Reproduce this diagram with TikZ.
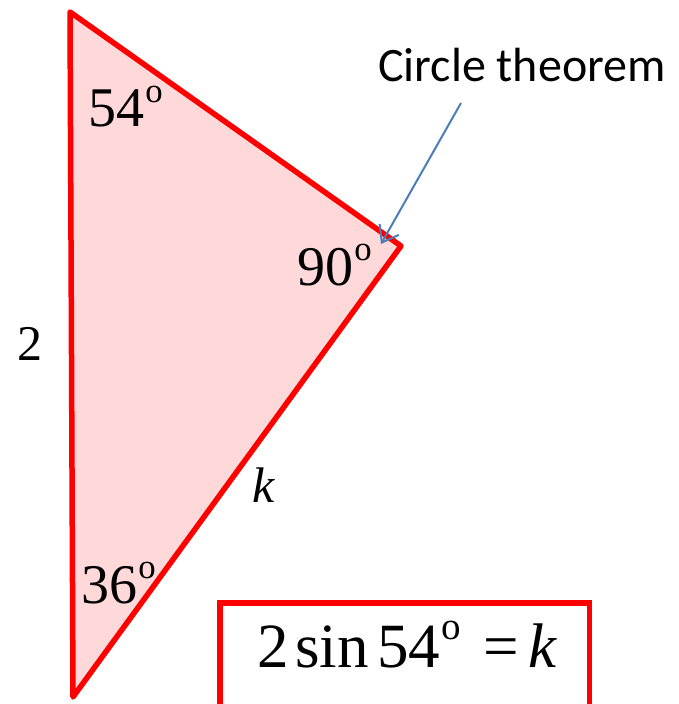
\documentclass[tikz,border=0pt]{standalone}
\usepackage{fontspec}
\setmainfont{Liberation Serif}
\newfontfamily\calfont{Carlito}
\usetikzlibrary{arrows.meta}
\definecolor{trired}{RGB}{255,0,0}
\definecolor{trifill}{RGB}{255,217,217}
\definecolor{arrowblue}{RGB}{74,126,187}
\newcommand\supo{\hspace{0.02em}\raisebox{0.43em}{\scalebox{0.62}{o}}}
\tikzset{
  edge/.style={draw=trired, line width=5.5bp, line join=round},
  anglelbl/.style={inner sep=0pt, anchor=base west, font=\fontsize{56bp}{60bp}\selectfont},
  sidelbl/.style={inner sep=0pt, anchor=base west, font=\fontsize{50bp}{54bp}\selectfont},
  notelbl/.style={inner sep=0pt, anchor=base west, font=\calfont\fontsize{48bp}{52bp}\selectfont},
  pointer/.style={draw=arrowblue, line width=2bp, -{Straight Barb[length=15bp,width=22bp,line width=2bp]}}
}
\begin{document}
\begin{tikzpicture}[x=1bp,y=-1bp]
\useasboundingbox (0,0) rectangle (679,704);
\begin{scope}
\clip (0,0) rectangle (679,704);
\coordinate (A) at (70,12);
\coordinate (B) at (401,246);
\coordinate (C) at (73,697);
\fill[trifill] (A) -- (B) -- (C) -- cycle;
\draw[edge] (A) -- (B) -- (C) -- cycle;
% box
\coordinate (bl) at (220,720);
\coordinate (tl) at (220,603);
\coordinate (tr) at (589.5,603);
\coordinate (br) at (589.5,720);
\draw[edge, line join=miter] (bl) -- (tl) -- (tr) -- (br);
\end{scope}
\node[anglelbl] (a54) at (88,127) {54\supo};
\node[anglelbl] (a90) at (297,285) {90\supo};
\node[anglelbl] (a36) at (81,603) {36\supo};
\node[sidelbl] (s2) at (17,360) {2};
\node[sidelbl] (sk) at (252,502) {\textit{k}};
\node[inner sep=0pt, anchor=base west, font=\fontsize{63bp}{68bp}\selectfont] (eq) at (257,667)
  {2\hspace{0.1em}sin\hspace{0.14em}54\supo\hspace{0.35em}=\hspace{0.15em}\textit{k}};
\node[notelbl] (ct) at (378,82) {Circle theorem};
\coordinate (p0) at (461,103);
\coordinate (p1) at (381,244);
\draw[pointer] (p0) -- (p1);
\end{tikzpicture}
\end{document}
